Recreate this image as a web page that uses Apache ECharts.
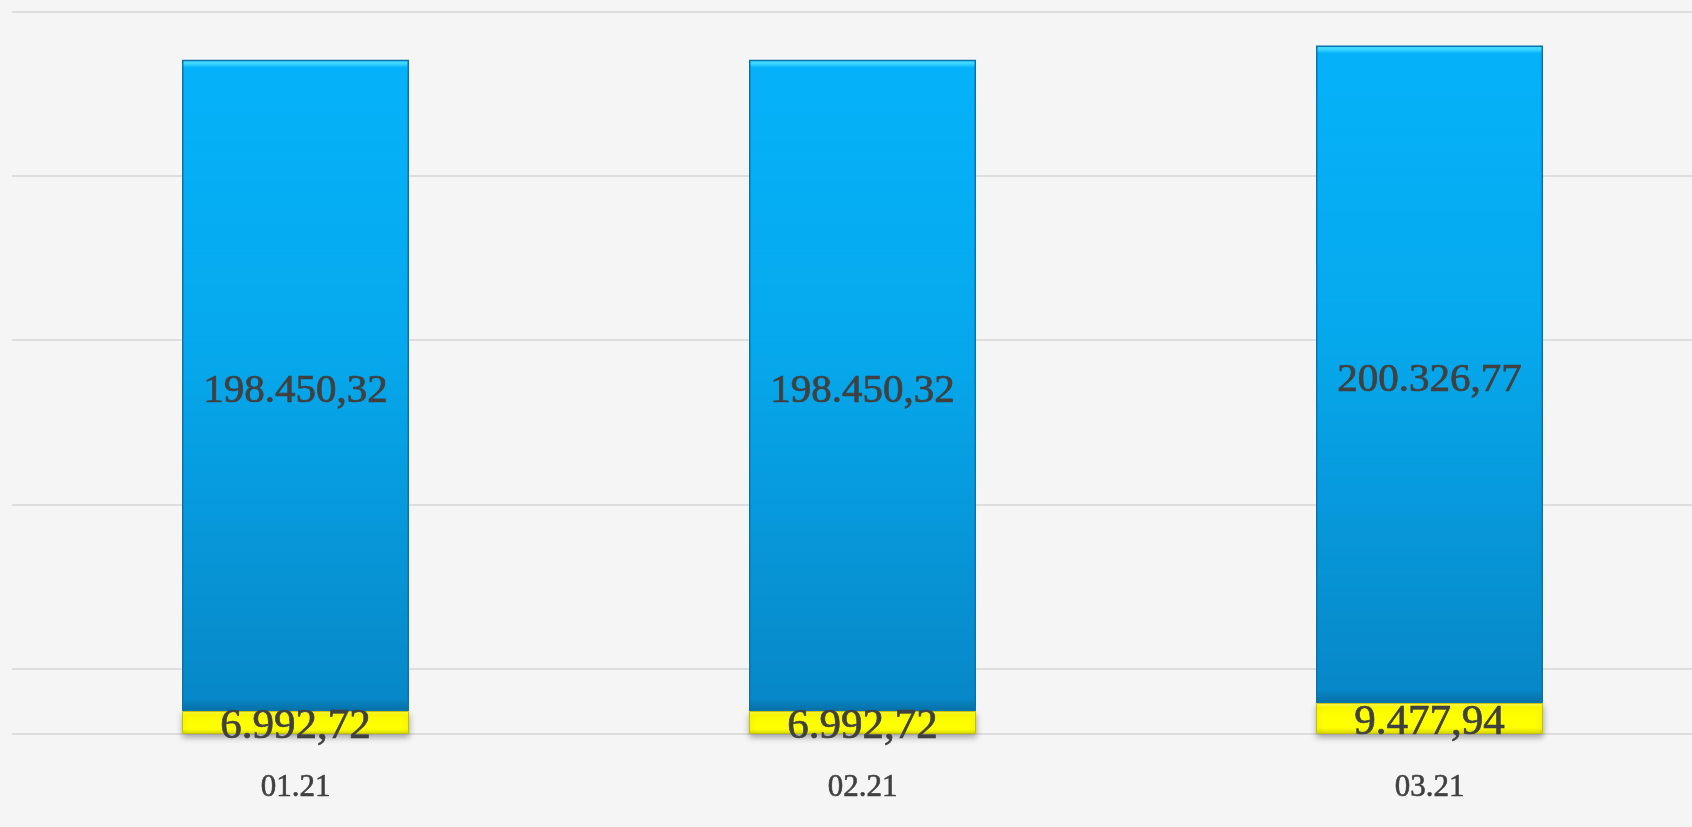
<!DOCTYPE html>
<html>
<head>
<meta charset="utf-8">
<script src="https://cdn.jsdelivr.net/npm/echarts@6/dist/echarts.min.js"></script>
<style>
html,body{margin:0;padding:0;background:#f5f5f5;overflow:hidden;width:1692px;height:827px;}
#chart{width:1713px;height:827px;}
</style>
</head>
<body>
<div id="chart"></div>
<script>
const categories = ['01.21', '02.21', '03.21'];
const yellowValues = [6992.72, 6992.72, 9477.94];
const blueValues = [198450.32, 198450.32, 200326.77];

function fmt(v) {
  const parts = v.toFixed(2).split('.');
  const intPart = parts[0].replace(/\B(?=(\d{3})+(?!\d))/g, '.');
  return intPart + ',' + parts[1];
}

const chart = echarts.init(document.getElementById('chart'));
const labelFont = '"Liberation Serif", "DejaVu Serif", serif';

chart.setOption({
  backgroundColor: '#f5f5f5',
  animation: false,
  grid: { left: 12, top: 12, right: 0, bottom: 93, containLabel: false },
  xAxis: {
    type: 'category',
    data: categories,
    axisLine: { show: false },
    axisTick: { show: false },
    axisLabel: { color: '#404040', fontSize: 31, fontFamily: labelFont, margin: 38,
      textBorderColor: '#404040', textBorderWidth: 0.6 }
  },
  yAxis: [
    { type: 'value', min: 0, max: 220000, show: false, splitLine: { show: false } },
    {
      type: 'value', inverse: true, min: 0, max: 220000, interval: 50000,
      axisLine: { show: false }, axisTick: { show: false }, axisLabel: { show: false },
      splitLine: { show: true, lineStyle: { color: '#d6d6d6', width: 1.5 } }
    }
  ],
  series: [
    {
      type: 'bar', stack: 'total', yAxisIndex: 0, barWidth: 227,
      data: yellowValues,
      itemStyle: {
        color: { type: 'linear', x: 0, y: 0, x2: 0, y2: 1,
          colorStops: [{ offset: 0, color: '#ffff66' }, { offset: 0.15, color: '#ffff00' }, { offset: 0.8, color: '#ffff00' }, { offset: 1, color: '#d9d900' }] },
        borderColor: '#c2c200', borderWidth: 1,
        shadowColor: 'rgba(0,0,0,0.3)', shadowBlur: 6, shadowOffsetY: 3
      },
      label: { show: true, position: 'inside', offset: [0, 4], color: '#404040', fontSize: 43, fontFamily: labelFont,
        textBorderColor: '#404040', textBorderWidth: 0.7,
        formatter: p => fmt(p.value) }
    },
    {
      type: 'bar', stack: 'total', yAxisIndex: 0, barWidth: 227,
      data: blueValues,
      itemStyle: {
        color: { type: 'linear', x: 0, y: 0, x2: 0, y2: 1,
          colorStops: [
            { offset: 0, color: '#44dcff' }, { offset: 0.006, color: '#3cd6ff' },
            { offset: 0.012, color: '#05b2fa' }, { offset: 0.45, color: '#06a8ec' },
            { offset: 0.98, color: '#0788c8' }, { offset: 1, color: '#066fa5' }] },
        borderColor: '#0a73ad', borderWidth: 1.5
      },
      label: { show: true, position: 'inside', offset: [0, 6], color: '#404040', fontSize: 41, fontFamily: labelFont,
        textBorderColor: '#404040', textBorderWidth: 0.7,
        formatter: p => fmt(p.value) }
    }
  ]
});
</script>
</body>
</html>
